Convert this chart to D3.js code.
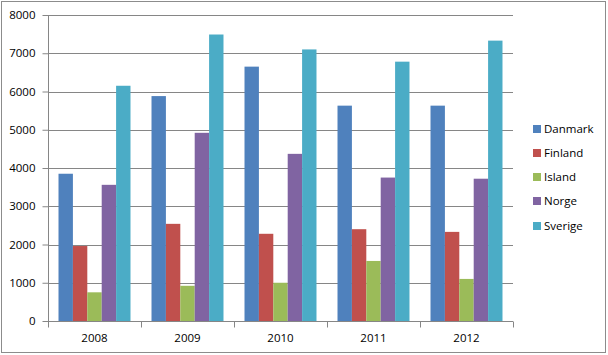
<!DOCTYPE html>
<html><head><meta charset="utf-8">
<script src="https://cdn.jsdelivr.net/npm/d3@7"></script>
<style>
body{margin:0;background:#fff;}
text{font-family:"Open Sans","DejaVu Sans",sans-serif;}
</style></head>
<body><svg id="c" width="608" height="355"></svg>
<script>
const years = ["2008","2009","2010","2011","2012"];
const seriesNames = ["Danmark","Finland","Island","Norge","Sverige"];
const colors = ["#4F81BD","#C0504D","#9BBB59","#8064A2","#4BACC6"];
const danmark = [3850, 5880, 6650, 5630, 5630];
const finland = [1960, 2540, 2280, 2400, 2330];
const island  = [750, 920, 1000, 1570, 1100];
const norge   = [3560, 4920, 4370, 3750, 3720];
const sverige = [6150, 7490, 7100, 6780, 7330];
const yTicks = [0,1000,2000,3000,4000,5000,6000,7000,8000];

const values = [danmark, finland, island, norge, sverige];
const svg = d3.select("#c");
svg.append("rect").attr("x",1.5).attr("y",1.5).attr("width",604).attr("height",351)
  .attr("fill","#fff").attr("stroke","#8c8c8c").attr("stroke-width",1);

const L=48, R=513, T=15, B=321;
const x0 = d3.scaleBand().domain(years).range([L,R]).paddingInner(0.226).paddingOuter(0.113);
const x1 = d3.scaleBand().domain(seriesNames).range([0,x0.bandwidth()]);
const y = d3.scaleLinear().domain([0,8000]).range([B,T]);

// gridlines
svg.append("g").selectAll("line").data(yTicks.filter(d=>d>0)).join("line")
  .attr("x1",L).attr("x2",R).attr("y1",d=>Math.round(y(d))+0.5).attr("y2",d=>Math.round(y(d))+0.5)
  .attr("stroke","#868686").attr("stroke-width",1);

// bars
const g = svg.append("g");
years.forEach((yr,i)=>{
  seriesNames.forEach((s,j)=>{
    g.append("rect").attr("x",x0(yr)+x1(s)).attr("width",x1.bandwidth())
      .attr("y",y(values[j][i])).attr("height",B-y(values[j][i])).attr("fill",colors[j]);
  });
});

// y axis
const ya = svg.append("g").attr("transform",`translate(${L+0.5},0)`)
  .call(d3.axisLeft(y).tickValues(yTicks).tickSize(6).tickPadding(7).tickFormat(d3.format("d")));
ya.selectAll("line,path").attr("stroke","#868686");
ya.selectAll("text").attr("font-size","11.5px").attr("fill","#000");
ya.select(".domain").attr("d",`M0,${T}V${B+0.5}`);

// x axis
const xa = svg.append("g").attr("transform",`translate(0,${B+0.5})`)
  .call(d3.axisBottom(x0).tickSize(0).tickPadding(12));
xa.selectAll("text").attr("font-size","11.5px").attr("fill","#000");
xa.select(".domain").attr("stroke","#868686").attr("d",`M${L},0H${R}`);
const bounds = years.map(yr=>x0(yr)-x0.step()*0.113/ (1) * 0).concat([]);
const step = x0.step();
const edges = d3.range(years.length+1).map(k=>L + k*(R-L)/years.length);
xa.selectAll(".edge").data(edges).join("line").attr("class","edge")
  .attr("x1",d=>Math.round(d)+0.5).attr("x2",d=>Math.round(d)+0.5).attr("y1",0).attr("y2",6)
  .attr("stroke","#868686");

// legend
const leg = svg.append("g");
const ly = [129,153,177,201,226];
seriesNames.forEach((s,j)=>{
  leg.append("rect").attr("x",533).attr("y",ly[j]-4).attr("width",8).attr("height",8).attr("fill",colors[j]);
  leg.append("text").attr("x",544).attr("y",ly[j]).attr("dy","0.35em")
    .attr("font-size","11.5px").text(s);
});
</script></body></html>
